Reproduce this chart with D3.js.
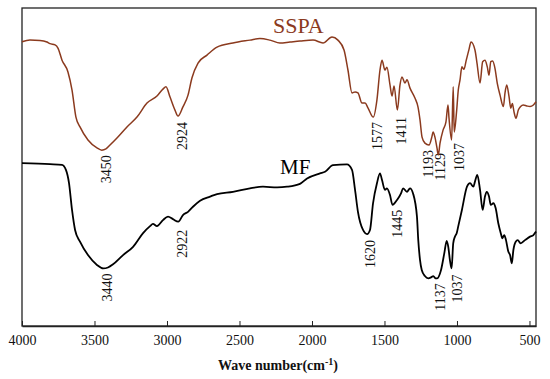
<!DOCTYPE html>
<html>
<head>
<meta charset="utf-8">
<script src="https://cdn.jsdelivr.net/npm/d3@7"></script>
<style>
  body { margin: 0; background: #fff; }
  text { font-family: "Liberation Serif", "Times New Roman", serif; }
</style>
</head>
<body>
<svg id="chart"></svg>
<script>
// FTIR spectra, transmittance in arbitrary units (0-100)
var sspaWave = [4000,3945,3876,3828,3807,3772,3752,3724,3683,3655,3628,3600,3545,3483,3450,3421,3393,3345,3276,3207,3138,3069,3028,3007,2979,2945,2924,2890,2855,2828,2786,2724,2655,2545,2428,2359,2290,2221,2152,2083,1993,1924,1862,1821,1779,1752,1724,1703,1683,1655,1634,1614,1577,1552,1531,1517,1497,1483,1462,1448,1434,1411,1393,1379,1359,1345,1324,1290,1269,1255,1241,1221,1193,1172,1165,1152,1138,1129,1117,1096,1076,1062,1055,1037,1026,1019,1002,991,979,966,952,936,917,903,876,862,841,823,807,791,779,767,754,738,722,703,680,669,657,641,629,618,607,593,577,561,543,519,496,473,455];
var sspaT = [89.4,89.9,89.8,89.3,88.8,88.4,87.4,83.6,79.9,74.2,65.7,62.6,58.5,56.0,55.3,55.7,56.9,59.1,62.6,65.7,70.1,72.3,74.5,75.2,72.0,67.9,66.0,68.9,72.6,78.0,82.7,85.2,87.7,89.0,89.9,90.4,89.9,89.0,89.3,89.6,89.9,89.0,90.9,89.9,86.8,80.5,73.3,73.6,73.3,70.1,70.1,68.6,65.7,71.1,80.5,83.6,80.5,81.4,75.8,72.3,75.5,67.9,75.8,78.3,76.4,77.4,74.8,71.7,68.9,64.8,59.4,57.5,56.9,59.7,61.0,59.4,56.0,53.8,57.5,61.6,64.2,69.5,65.4,58.5,75.2,61.0,67.9,74.2,77.4,81.5,80.7,83.6,87.0,89.3,86.8,82.7,76.4,83.1,83.6,81.5,78.9,83.1,83.3,81.0,76.3,72.6,69.0,73.2,75.8,72.1,68.5,70.0,67.4,65.3,67.9,69.0,69.5,69.2,69.0,69.5,70.5];

var mfWave = [4000,3807,3724,3697,3676,3655,3634,3600,3545,3483,3440,3407,3372,3303,3234,3165,3117,3097,3069,3028,2993,2959,2922,2890,2855,2821,2772,2703,2655,2545,2428,2338,2241,2172,2083,2034,1945,1910,1855,1759,1724,1703,1683,1648,1620,1600,1579,1552,1531,1517,1497,1483,1462,1445,1414,1386,1372,1345,1324,1303,1276,1267,1255,1243,1221,1198,1179,1163,1147,1137,1110,1087,1071,1060,1048,1037,1026,1014,1002,991,966,931,910,887,876,860,841,823,807,795,779,767,749,733,715,698,687,674,662,646,634,622,611,595,581,561,531,496,473,455];
var mfT = [51.2,50.9,50.7,49.1,45.0,36.5,30.2,26.5,22.3,19.2,18.1,18.4,19.4,22.3,24.9,29.2,31.4,32.1,31.4,33.3,34.4,33.6,32.8,34.9,35.9,37.5,39.4,40.7,41.5,42.2,43.3,43.8,43.6,43.8,44.7,46.4,48.0,48.5,50.6,50.8,49.1,42.8,35.9,30.2,28.9,30.2,38.6,44.9,48.0,45.9,42.8,43.3,41.2,38.1,39.6,41.7,43.3,42.2,43.3,41.7,34.4,27.0,20.8,17.6,15.7,15.0,15.3,15.7,15.0,15.0,17.6,23.0,26.8,24.9,20.5,18.1,26.0,28.1,29.2,31.4,36.5,43.8,44.9,43.8,45.4,47.5,42.8,36.5,40.7,42.2,40.7,38.1,38.6,37.0,32.3,29.2,27.6,28.6,27.0,23.4,22.3,19.7,23.9,26.5,27.0,26.0,27.0,28.1,28.6,29.7];

// peak labels
var sspaPeaks = [3450, 2924, 1577, 1411, 1193, 1129, 1037];
var mfPeaks = [3440, 2922, 1620, 1445, 1137, 1037];
var xTicks = [4000, 3500, 3000, 2500, 2000, 1500, 1000, 500];

var width = 550,
    height = 379;
var margin = {top: 8, right: 14, bottom: 53, left: 22};

var svg = d3.select("#chart")
    .attr("width", width)
    .attr("height", height);

var x = d3.scaleLinear()
    .domain([4000, 455])
    .range([margin.left, width - margin.right]);

var y = d3.scaleLinear()
    .domain([0, 100])
    .range([height - margin.bottom, margin.top]);

var brown = "#8b3a1e";

// frame
svg.append("rect")
    .attr("x", x.range()[0])
    .attr("y", margin.top)
    .attr("width", x.range()[1] - x.range()[0])
    .attr("height", y.range()[0] - margin.top)
    .attr("fill", "none")
    .attr("stroke", "#222")
    .attr("stroke-width", 1.3);

var xAxis = d3.axisBottom(x)
    .tickValues(xTicks)
    .tickSizeInner(-5)
    .tickSizeOuter(0)
    .tickPadding(9)
    .tickFormat(d3.format("d"));

svg.append("g")
    .attr("transform", "translate(0," + y.range()[0] + ")")
    .call(xAxis)
    .call(function(g) {
      g.select(".domain").attr("stroke", "#222").attr("stroke-width", 1.3);
      g.selectAll(".tick line").attr("stroke", "#222");
      g.selectAll(".tick text")
        .attr("font-family", "Liberation Serif")
        .attr("font-size", 14)
        .attr("fill", "#111");
    });

// axis title with superscript
var title = svg.append("text")
    .attr("x", 278)
    .attr("y", 370)
    .attr("text-anchor", "middle")
    .attr("font-size", 14)
    .attr("font-weight", "bold")
    .attr("fill", "#111");
title.append("tspan").text("Wave number(cm");
title.append("tspan").attr("dy", -5).attr("font-size", 10).text("-1");
title.append("tspan").attr("dy", 5).text(")");

var line = d3.line()
    .x(function(d) { return x(d[0]); })
    .y(function(d) { return y(d[1]); })
    .curve(d3.curveMonotoneX);

function peakValue(wave, t, w) {
  var i = wave.indexOf(w);
  return t[i];
}

// small nudges so crowded labels don't collide (px)
function nudge(name, d) {
  var dx = 4, dy = 5;
  if (name == "sspa") {
    if (d == 1193) { dx = -1; }
    if (d == 1129) { dx = 2; dy = -2; }
    if (d == 1037) { dx = 7; dy = 3; }
    if (d == 2924) { dy = 6; }
    if (d == 1411) { dy = 7; }
  } else {
    if (d == 2922) { dy = 8; }
    if (d == 1620) { dx = 3; dy = 6; }
    if (d == 1445) { dx = 5; }
    if (d == 1137) { dx = 3; }
    if (d == 1037) { dx = 5; dy = 6; }
  }
  return [dx, dy];
}

function drawLabels(name, peaks, wave, t) {
  svg.append("g").selectAll("text")
    .data(peaks)
    .enter().append("text")
      .attr("transform", function(d) {
        var n = nudge(name, d);
        return "translate(" + (x(d) + n[0]) + "," + (y(peakValue(wave, t, d)) + n[1]) + ") rotate(-90)";
      })
      .attr("text-anchor", "end")
      .attr("dy", "0.35em")
      .attr("font-size", 14)
      .attr("fill", "#111")
      .text(function(d) { return d; });
}

drawLabels("sspa", sspaPeaks, sspaWave, sspaT);
drawLabels("mf", mfPeaks, mfWave, mfT);

svg.append("path")
    .datum(d3.zip(sspaWave, sspaT))
    .attr("fill", "none")
    .attr("stroke", brown)
    .attr("stroke-width", 1.5)
    .attr("d", line);

svg.append("path")
    .datum(d3.zip(mfWave, mfT))
    .attr("fill", "none")
    .attr("stroke", "#000")
    .attr("stroke-width", 1.8)
    .attr("d", line);

svg.append("text")
    .attr("x", 273)
    .attr("y", 33)
    .attr("font-size", 22)
    .attr("fill", brown)
    .text("SSPA");

svg.append("text")
    .attr("x", 280)
    .attr("y", 174)
    .attr("font-size", 21)
    .attr("fill", "#000")
    .text("MF");
</script>
</body>
</html>
